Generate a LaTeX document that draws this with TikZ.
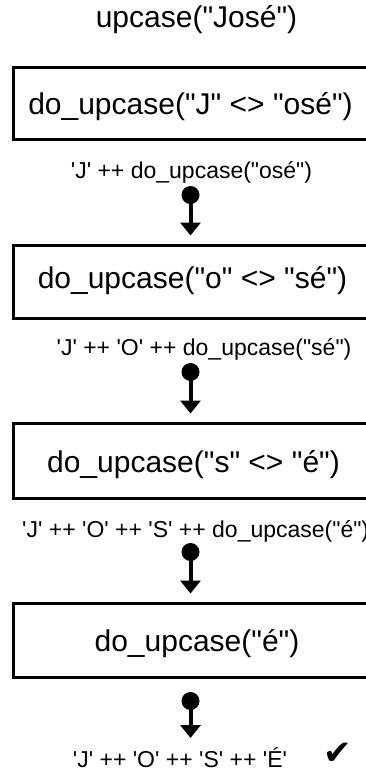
\documentclass[tikz,border=0pt]{standalone}
\usepackage{fontspec}
\newfontfamily\lsans{Liberation Sans}
\newfontfamily\dejavu{DejaVu Sans}
\usetikzlibrary{arrows.meta}
\tikzset{
  boxnode/.style={draw, line width=3pt, minimum width=358pt, inner sep=0pt, anchor=west},
  bigtext/.style={font=\lsans\fontsize{30}{36}\selectfont, inner sep=0pt, anchor=base},
  midtext/.style={font=\lsans\fontsize{23}{28}\selectfont, inner sep=0pt, anchor=base},
  dotnode/.style={circle, fill=black, inner sep=0pt, minimum size=18pt},
  pinline/.style={line width=4pt, -{Triangle[width=20pt,length=13pt]}, shorten >=8pt},
}
\begin{document}
\begin{tikzpicture}[x=1pt,y=-1pt]
\useasboundingbox (0,0) rectangle (366,773);
\clip (0,0) rectangle (366,773);

\node[bigtext] (title) at (196.5,28) {upcase("José")};

\node[boxnode, minimum height=71.5pt] (b1) at (12,103.75) {};
\node[bigtext] (bt1) at (190.5,115) {do\_upcase("J" <> "osé")};
\node[midtext] (l1) at (191.5,178) {'J' ++ do\_upcase("osé")};
\node[dotnode] (d1) at (190.5,195) {};

\node[boxnode, minimum height=73pt] (b2) at (12,281.5) {};
\node[bigtext] (bt2) at (192.5,288) {do\_upcase("o" <> "sé")};
\node[midtext] (l2) at (204,355) {'J' ++ 'O' ++ do\_upcase("sé")};
\node[dotnode] (d2) at (190.5,372) {};

\node[boxnode, minimum height=75pt] (b3) at (12,460.5) {};
\node[bigtext] (bt3) at (193.5,472) {do\_upcase("s" <> "é")};
\node[midtext, anchor=base west] (l3) at (22,537) {'J' ++ 'O' ++ 'S' ++ do\_upcase("é")};
\node[dotnode] (d3) at (190.5,552) {};

\node[boxnode, minimum height=74pt] (b4) at (12,640) {};
\node[bigtext] (bt4) at (197,651) {do\_upcase("é")};
\node[dotnode] (d4) at (190.5,701) {};
\coordinate (e4) at (190.5,738);

\node[midtext] (f) at (180,767) {'J' ++ 'O' ++ 'S' ++ 'É'};
\node[font=\dejavu\fontsize{34}{38}\selectfont, inner sep=0pt] (ck) at (338,754) {✔};

\draw[pinline] (d1.center) -- (d1.center |- b2.north);
\draw[pinline] (d2.center) -- (d2.center |- b3.north);
\draw[pinline] (d3.center) -- (d3.center |- b4.north);
\draw[pinline, shorten >=0pt] (d4.center) -- (e4);
\end{tikzpicture}
\end{document}
